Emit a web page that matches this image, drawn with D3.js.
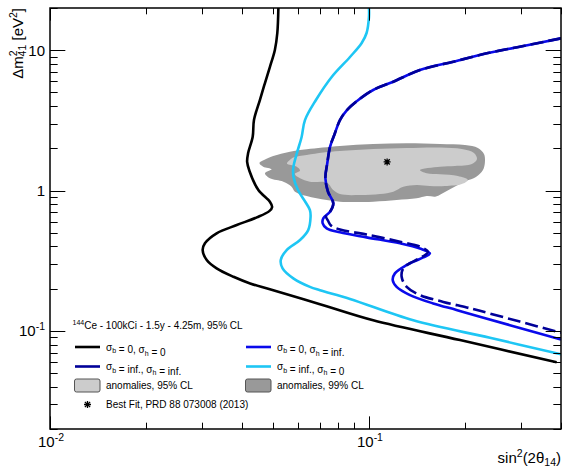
<!DOCTYPE html>
<html><head><meta charset="utf-8">
<script src="https://cdn.jsdelivr.net/npm/d3@7"></script>
<style>body{margin:0;background:#fff}svg{display:block;font-family:"Liberation Sans",Arial,Helvetica,sans-serif}</style>
</head><body><svg id="c" width="562" height="468"></svg>
<script>
// ---------------- data ----------------
const xDomain = [0.01, 0.4];
const yDomain = [0.02, 20];
const xTickLabels = [{v: 0.01, base: "10", exp: "-2"}, {v: 0.1, base: "10", exp: "-1"}];
const yTickLabels = [{v: 10, base: "10", exp: ""}, {v: 1, base: "1", exp: ""}, {v: 0.1, base: "10", exp: "-1"}];

// sigma_b = 0, sigma_h = 0 (black)
const curveB0H0 = [[0.0520,20],[0.0516,13.27],[0.0507,10.04],[0.0489,7.59],[0.0472,5.84],[0.0455,4.42],[0.0436,3.18],[0.0432,2.42],[0.0418,1.85],[0.0415,1.60],[0.0422,1.38],[0.0450,1.009],[0.0489,0.833],[0.0497,0.763],[0.0487,0.714],[0.0445,0.644],[0.0385,0.568],[0.0333,0.496],[0.0306,0.421],[0.0301,0.377],[0.0310,0.320],[0.0333,0.279],[0.0376,0.243],[0.0424,0.218],[0.0489,0.198],[0.0702,0.155],[0.1031,0.119],[0.193,0.0860],[0.3876,0.0597]];
// sigma_b = inf, sigma_h = 0 (cyan)
const curveBinfH0 = [[0.1,20],[0.1,17.25],[0.0983,13.27],[0.0949,11.27],[0.0872,8.95],[0.0764,6.45],[0.0682,4.42],[0.0630,3.18],[0.0615,2.41],[0.0594,1.84],[0.0579,1.45],[0.0580,1.25],[0.0599,1.009],[0.0632,0.829],[0.0653,0.726],[0.0656,0.648],[0.0645,0.523],[0.0608,0.444],[0.0552,0.377],[0.0529,0.320],[0.0536,0.279],[0.0579,0.237],[0.0653,0.206],[0.0702,0.195],[0.0872,0.169],[0.1377,0.119],[0.2395,0.0893],[0.4,0.0682]];
// sigma_b = 0, sigma_h = inf (blue)
const curveB0Hinf = [[0.4,12.16],[0.297,10.60],[0.234,9.51],[0.184,8.29],[0.1445,7.23],[0.1192,5.97],[0.1031,5.21],[0.0926,4.42],[0.0853,3.75],[0.0811,3.18],[0.0782,2.56],[0.0755,2.05],[0.0740,1.56],[0.0730,1.23],[0.0744,0.981],[0.0773,0.811],[0.0755,0.706],[0.0719,0.634],[0.0716,0.584],[0.0737,0.538],[0.0811,0.504],[0.0983,0.464],[0.1251,0.421],[0.1445,0.387],[0.1553,0.357],[0.148,0.334],[0.1313,0.295],[0.1206,0.257],[0.1187,0.230],[0.1221,0.206],[0.1345,0.180],[0.159,0.157],[0.188,0.141],[0.2256,0.125],[0.297,0.105],[0.4,0.0867]];
// sigma_b = inf, sigma_h = inf (navy, dashed)
const curveBinfHinf = [[0.4,12.16],[0.297,10.60],[0.234,9.51],[0.184,8.29],[0.1445,7.23],[0.1192,5.97],[0.1031,5.21],[0.0926,4.42],[0.0853,3.75],[0.0811,3.18],[0.0782,2.56],[0.0755,2.05],[0.0740,1.56],[0.0730,1.23],[0.0744,0.981],[0.0773,0.811],[0.0755,0.706],[0.0733,0.658],[0.0745,0.607],[0.0760,0.564],[0.0811,0.528],[0.0983,0.486],[0.1251,0.432],[0.1445,0.399],[0.1531,0.365],[0.1424,0.325],[0.1345,0.304],[0.1281,0.279],[0.1266,0.243],[0.1313,0.206],[0.1445,0.180],[0.171,0.161],[0.2024,0.147],[0.2228,0.139],[0.297,0.1165],[0.4,0.097]];
// anomaly regions
const anomalies99 = [[0.04536,1.571],[0.04755,1.678],[0.0501,1.763],[0.0565,1.892],[0.0638,1.967],[0.0811,2.076],[0.1031,2.146],[0.1313,2.171],[0.167,2.146],[0.200,2.112],[0.2196,2.010],[0.2294,1.822],[0.231,1.597],[0.2277,1.400],[0.2165,1.249],[0.2015,1.169],[0.1874,1.077],[0.1731,0.976],[0.1622,0.907],[0.1517,0.914],[0.1411,0.880],[0.1221,0.856],[0.1031,0.833],[0.0811,0.833],[0.0737,0.856],[0.0638,0.914],[0.0586,0.981],[0.0572,1.065],[0.0539,1.156],[0.0489,1.222],[0.0472,1.327],[0.0495,1.417],[0.0466,1.479]];
const anomalies95 = [[0.0553,1.558],[0.0565,1.651],[0.0579,1.720],[0.0638,1.792],[0.0719,1.867],[0.0811,1.913],[0.1031,1.977],[0.1313,2.010],[0.167,2.026],[0.1956,1.977],[0.2134,1.852],[0.2181,1.678],[0.2103,1.545],[0.186,1.495],[0.167,1.479],[0.1445,1.400],[0.1517,1.327],[0.167,1.305],[0.190,1.269],[0.2043,1.189],[0.1956,1.113],[0.1731,1.077],[0.1553,1.077],[0.1411,1.095],[0.1281,1.065],[0.1192,0.981],[0.1083,0.944],[0.0937,0.929],[0.0811,0.944],[0.0773,1.009],[0.0737,1.141],[0.0653,1.156],[0.0608,1.222],[0.0586,1.312],[0.0608,1.389],[0.0594,1.479]];
const bestFit = [0.114, 1.60];

const legendHeader = {iso: "144", text: "Ce - 100kCi - 1.5y - 4.25m, 95% CL"};
const legendEntries = [
  {col: 0, row: 0, type: "line", color: "#000000", label: "σ_b = 0, σ_h = 0"},
  {col: 1, row: 0, type: "line", color: "#0a0aeb", label: "σ_b = 0, σ_h = inf."},
  {col: 0, row: 1, type: "line", color: "#000099", label: "σ_b = inf., σ_h = inf."},
  {col: 1, row: 1, type: "line", color: "#1ec6f4", label: "σ_b = inf., σ_h = 0"},
  {col: 0, row: 2, type: "box", color: "#cccccc", label: "anomalies, 95% CL"},
  {col: 1, row: 2, type: "box", color: "#999999", label: "anomalies, 99% CL"},
  {col: 0, row: 3, type: "star", color: "#000000", label: "Best Fit, PRD 88 073008 (2013)"}
];

// ---------------- layout ----------------
const L = 50, R = 561, T = 8, B = 429;
const svg = d3.select("#c");
const x = d3.scaleLog().domain(xDomain).range([L, R]);
const y = d3.scaleLog().domain(yDomain).range([B, T]);

svg.append("defs").append("clipPath").attr("id", "frame")
  .append("rect").attr("x", L).attr("y", T).attr("width", R - L).attr("height", B - T);
const plot = svg.append("g").attr("clip-path", "url(#frame)");

const area = d3.line().x(d => x(d[0])).y(d => y(d[1])).curve(d3.curveCatmullRomClosed.alpha(0.5));
plot.append("path").attr("d", area(anomalies99)).attr("fill", "#999999");
plot.append("path").attr("d", area(anomalies95)).attr("fill", "#cccccc");

const line = d3.line().x(d => x(d[0])).y(d => y(d[1])).curve(d3.curveCatmullRom.alpha(0.5));
const lw = 2.6;
plot.append("path").attr("d", line(curveB0H0)).attr("fill", "none").attr("stroke", "#000000").attr("stroke-width", lw);
plot.append("path").attr("d", line(curveBinfH0)).attr("fill", "none").attr("stroke", "#1ec6f4").attr("stroke-width", lw);
plot.append("path").attr("d", line(curveB0Hinf)).attr("fill", "none").attr("stroke", "#0a0aeb").attr("stroke-width", lw);
plot.append("path").attr("d", line(curveBinfHinf)).attr("fill", "none").attr("stroke", "#000099").attr("stroke-width", lw).attr("stroke-dasharray", "13,5");

function star(g, cx, cy, s) {
  const p = `M${cx - s},${cy}H${cx + s}M${cx},${cy - s}V${cy + s}M${cx - s * 0.75},${cy - s * 0.75}L${cx + s * 0.75},${cy + s * 0.75}M${cx - s * 0.75},${cy + s * 0.75}L${cx + s * 0.75},${cy - s * 0.75}`;
  g.append("path").attr("d", p).attr("stroke", "#000").attr("stroke-width", 1.3).attr("fill", "none");
}
star(plot, x(bestFit[0]), y(bestFit[1]), 3.5);

// ---------------- frame and ticks ----------------
const axes = svg.append("g").attr("stroke", "#000").attr("stroke-width", 1);
const isMajor = v => Math.abs(Math.log10(v) - Math.round(Math.log10(v))) < 1e-6;
const yMaj = 0.03 * (R - L), yMin = yMaj / 2, xMaj = 0.03 * (B - T), xMin = xMaj / 2;
x.ticks().forEach(v => {
  const px = Math.round(x(v)) + 0.5, len = isMajor(v) ? xMaj : xMin;
  axes.append("line").attr("x1", px).attr("x2", px).attr("y1", B).attr("y2", B - len);
  axes.append("line").attr("x1", px).attr("x2", px).attr("y1", T).attr("y2", T + len);
});
y.ticks().forEach(v => {
  const py = Math.round(y(v)) + 0.5, len = isMajor(v) ? yMaj : yMin;
  axes.append("line").attr("x1", L).attr("x2", L + len).attr("y1", py).attr("y2", py);
  axes.append("line").attr("x1", R).attr("x2", R - len).attr("y1", py).attr("y2", py);
});
svg.append("rect").attr("x", L).attr("y", T).attr("width", R - L).attr("height", B - T)
  .attr("fill", "none").attr("stroke", "#000").attr("stroke-width", 1.5);

// tick labels
const fs = 15;
function powLabel(g, px, py, d, anchor) {
  const t = g.append("text").attr("x", px).attr("y", py).attr("text-anchor", anchor).attr("font-size", fs).attr("fill", "#000");
  t.append("tspan").text(d.base);
  if (d.exp) t.append("tspan").attr("dy", -6).attr("font-size", 10.5).text(d.exp);
}
xTickLabels.forEach(d => powLabel(svg, x(d.v) + 1, 447, d, "middle"));
yTickLabels.forEach(d => powLabel(svg, 45, y(d.v) + 5.5, d, "end"));

// axis titles
const xt = svg.append("text").attr("x", 561).attr("y", 463).attr("text-anchor", "end").attr("font-size", fs);
xt.append("tspan").text("sin");
xt.append("tspan").attr("dy", -6).attr("font-size", 10.5).text("2");
xt.append("tspan").attr("dy", 6).text("(2θ");
xt.append("tspan").attr("dy", 3).attr("font-size", 10.5).text("14");
xt.append("tspan").attr("dy", -3).text(")");

const yt = svg.append("text").attr("transform", "translate(23,8) rotate(-90)").attr("text-anchor", "end").attr("font-size", fs);
yt.append("tspan").text("Δm");
yt.append("tspan").attr("dy", -6).attr("font-size", 10.5).text("2");
yt.append("tspan").attr("dy", 9).attr("dx", -6).attr("font-size", 10.5).text("41");
yt.append("tspan").attr("dy", -3).text(" [eV");
yt.append("tspan").attr("dy", -6).attr("font-size", 10.5).text("2");
yt.append("tspan").attr("dy", 6).text("]");

// ---------------- legend ----------------
const lg = svg.append("g").attr("font-size", 10);
const hdr = lg.append("text").attr("x", 72.5).attr("y", 328.5);
hdr.append("tspan").attr("dy", -3.5).attr("font-size", 7).text(legendHeader.iso);
hdr.append("tspan").attr("dy", 3.5).text(legendHeader.text);

const colX = [75, 246], rowY = [347, 366.5, 385.5, 404.5];
function richLabel(t, s) {
  const parts = s.split(/(_[a-z])/);
  parts.forEach(p => {
    if (!p) return;
    if (p[0] === "_") {
      t.append("tspan").attr("dy", 2.5).attr("font-size", 7).text(p[1]);
      t.append("tspan").attr("dy", -2.5).text("");
    } else t.append("tspan").text(p);
  });
}
legendEntries.forEach(e => {
  const x0 = colX[e.col], cy = rowY[e.row];
  if (e.type === "line") {
    lg.append("line").attr("x1", x0).attr("x2", x0 + 25).attr("y1", cy).attr("y2", cy)
      .attr("stroke", e.color).attr("stroke-width", 2.6);
  } else if (e.type === "box") {
    lg.append("rect").attr("x", x0 - 0.5).attr("y", cy - 6.5).attr("width", 25.5).attr("height", 13).attr("rx", 2)
      .attr("fill", e.color).attr("stroke", "#555").attr("stroke-width", 1);
  } else {
    star(lg, x0 + 12.5, cy, 3.5);
  }
  const t = lg.append("text").attr("x", x0 + 31).attr("y", cy + 3.5).attr("fill", "#000");
  richLabel(t, e.label);
});
</script></body></html>
